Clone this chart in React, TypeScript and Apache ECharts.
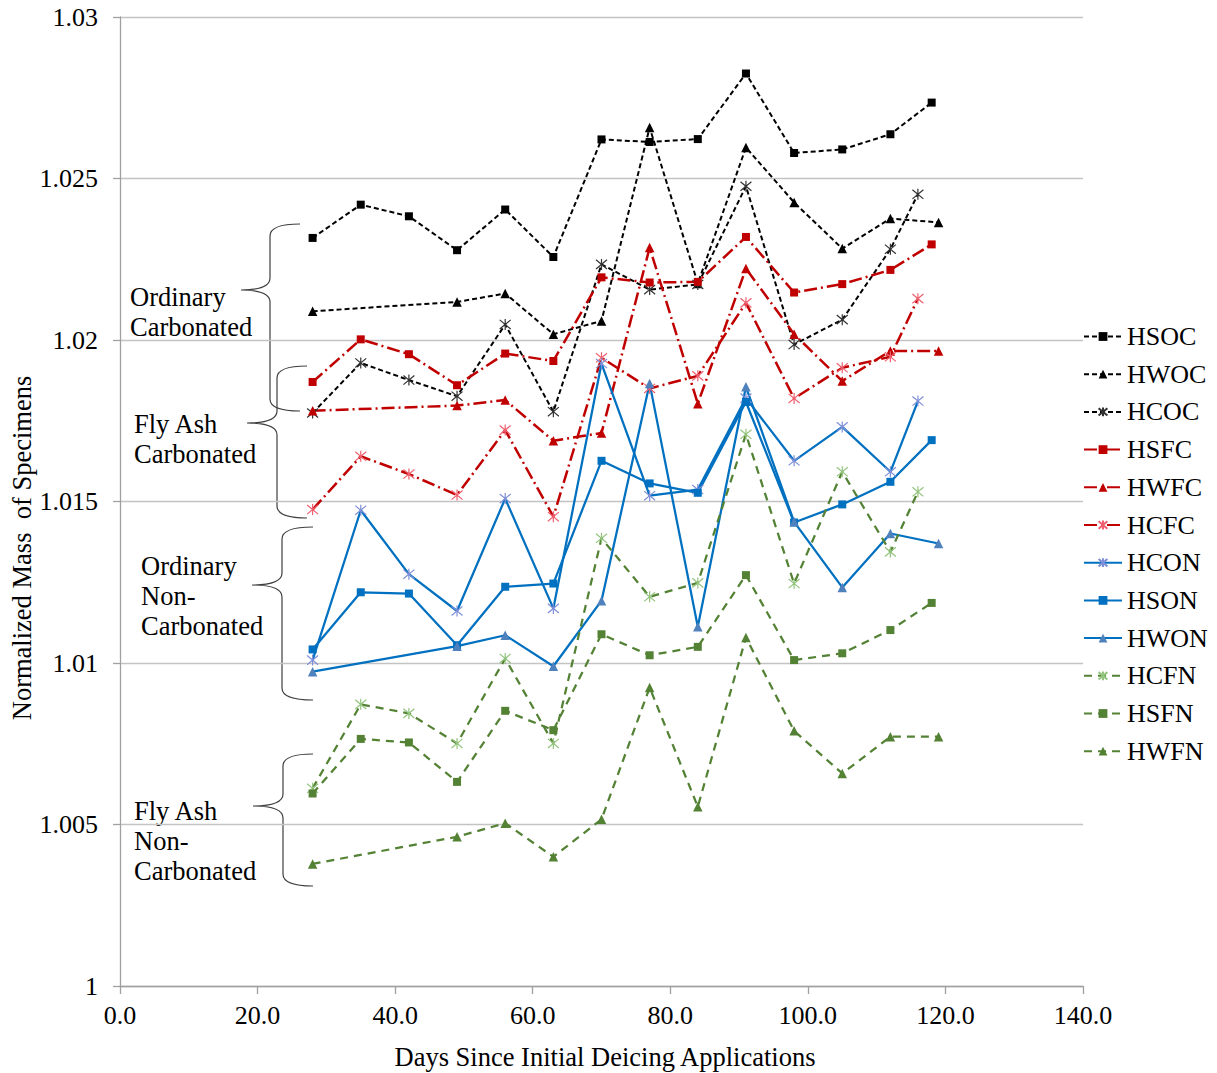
import React, { useEffect, useRef } from "react";
import * as echarts from "echarts";

// ---------- DATA ----------
const X_TICKS_MIN = 0;
const X_TICKS_MAX = 140;
const Y_MIN = 1.0;
const Y_MAX = 1.03;

const DAYS_TO_118 = [28, 35, 42, 49, 56, 63, 70, 77, 84, 91, 98, 105, 112, 118];
const DAYS_TO_116 = [28, 35, 42, 49, 56, 63, 70, 77, 84, 91, 98, 105, 112, 116];
const DAYS_TO_119 = [28, 49, 56, 63, 70, 77, 84, 91, 98, 105, 112, 119];

const HSOC = [1.02316, 1.02419, 1.02383, 1.02278, 1.02404, 1.02257, 1.02621, 1.02613, 1.02622, 1.02825, 1.02579, 1.0259, 1.02637, 1.02735];
const HWOC = [1.02089, 1.02118, 1.02144, 1.02018, 1.02059, 1.02658, 1.02175, 1.02596, 1.02426, 1.02283, 1.02376, 1.02364];
const HCOC = [1.01774, 1.01929, 1.01876, 1.01826, 1.02048, 1.01778, 1.02234, 1.02156, 1.02172, 1.02476, 1.01986, 1.02063, 1.02281, 1.02451];
const HSFC = [1.0187, 1.02002, 1.01956, 1.0186, 1.01958, 1.01935, 1.02194, 1.02178, 1.0218, 1.02319, 1.02147, 1.02173, 1.02217, 1.02296];
const HWFC = [1.01781, 1.01797, 1.01814, 1.01688, 1.01712, 1.02286, 1.01803, 1.02221, 1.02018, 1.01873, 1.01966, 1.01966];
const HCFC = [1.01475, 1.0164, 1.01585, 1.0152, 1.01721, 1.01453, 1.01945, 1.0185, 1.01889, 1.02115, 1.01819, 1.01914, 1.01948, 1.02128];
const HCON = [1.01009, 1.01473, 1.01275, 1.01161, 1.01509, 1.01169, 1.01927, 1.01518, 1.01537, 1.0182, 1.01626, 1.01731, 1.01592, 1.01811];
const HSON = [1.01042, 1.01219, 1.01215, 1.01055, 1.01236, 1.01246, 1.01626, 1.01556, 1.01527, 1.01808, 1.01435, 1.01491, 1.01561, 1.0169];
const HWON = [1.00973, 1.01052, 1.01086, 1.0099, 1.01193, 1.01865, 1.01112, 1.01855, 1.01437, 1.01234, 1.01401, 1.0137];
const HCFN = [1.00612, 1.00872, 1.00844, 1.00751, 1.01014, 1.00751, 1.01386, 1.01205, 1.01248, 1.01708, 1.01246, 1.01592, 1.01344, 1.0153];
const HSFN = [1.00596, 1.00765, 1.00754, 1.00632, 1.00852, 1.00792, 1.01089, 1.01024, 1.0105, 1.01272, 1.01009, 1.0103, 1.01102, 1.01186];
const HWFN = [1.00378, 1.00462, 1.00504, 1.004, 1.00516, 1.00924, 1.00555, 1.01079, 1.0079, 1.00658, 1.00772, 1.00772];

const GROUP_LABELS = [
  ["Ordinary", "Carbonated"],
  ["Fly Ash", "Carbonated"],
  ["Ordinary", "Non-", "Carbonated"],
  ["Fly Ash", "Non-", "Carbonated"],
];

const X_NAME = "Days Since Initial Deicing Applications";
const Y_NAME = "Normalized Mass  of Specimens";

// ---------- STYLES ----------
const FONT = "'Liberation Serif', 'Times New Roman', serif";
const ASTER = "path://M1,1L11,11M11,1L1,11M6,0L6,12";

const BLACK = { color: "#000000", type: [5, 3], width: 2 };
const RED = { color: "#c00000", type: [13, 4, 2, 4], width: 2.5 };
const BLUE = { color: "#0070c0", type: "solid", width: 2.25 };
const GREEN = { color: "#548235", type: [8, 6], width: 2.25 };

const SERIES = [
  { name: "HSOC", days: DAYS_TO_118, vals: HSOC, line: BLACK, sym: "rect", mc: "#000000" },
  { name: "HWOC", days: DAYS_TO_119, vals: HWOC, line: BLACK, sym: "triangle", mc: "#000000" },
  { name: "HCOC", days: DAYS_TO_116, vals: HCOC, line: BLACK, sym: "aster", mc: "#333333" },
  { name: "HSFC", days: DAYS_TO_118, vals: HSFC, line: RED, sym: "rect", mc: "#c00000" },
  { name: "HWFC", days: DAYS_TO_119, vals: HWFC, line: RED, sym: "triangle", mc: "#c00000" },
  { name: "HCFC", days: DAYS_TO_116, vals: HCFC, line: RED, sym: "aster", mc: "#f06070" },
  { name: "HCON", days: DAYS_TO_116, vals: HCON, line: BLUE, sym: "aster", mc: "#7f8fd8" },
  { name: "HSON", days: DAYS_TO_118, vals: HSON, line: BLUE, sym: "rect", mc: "#0070c0" },
  { name: "HWON", days: DAYS_TO_119, vals: HWON, line: BLUE, sym: "triangle", mc: "#4f81bd" },
  { name: "HCFN", days: DAYS_TO_116, vals: HCFN, line: GREEN, sym: "aster", mc: "#92c47d" },
  { name: "HSFN", days: DAYS_TO_118, vals: HSFN, line: GREEN, sym: "rect", mc: "#548235" },
  { name: "HWFN", days: DAYS_TO_119, vals: HWFN, line: GREEN, sym: "triangle", mc: "#548235" },
];

// brace geometry: [endX, verticalX, tipX, topY, midY, bottomY]
const BRACES = [
  [300, 270, 241, 224, 290, 411],
  [307, 277, 247, 366, 423, 518],
  [313, 282, 252, 527, 585, 700],
  [313, 283, 253, 754, 806, 886],
];
const LABEL_POS = [
  { x: 130, y: [297, 327] },
  { x: 134, y: [424, 454] },
  { x: 141, y: [566, 596, 626] },
  { x: 134, y: [811, 841, 871] },
];

function bracePath(b: number[]) {
  const [xe, xv, xt, yt, ym, yb] = b;
  const r = 12;
  return (
    `M${xe},${yt} Q${xv},${yt} ${xv},${yt + r} L${xv},${ym - r} ` +
    `Q${xv},${ym} ${xt},${ym} Q${xv},${ym} ${xv},${ym + r} ` +
    `L${xv},${yb - r} Q${xv},${yb} ${xe},${yb}`
  );
}

export default function App() {
  const ref = useRef<HTMLDivElement>(null);
  useEffect(() => {
    document.body.style.margin = "0";
    BRACES.forEach((b, i) => {
      echarts.graphic.registerShape("brace" + i, echarts.graphic.extendPath(bracePath(b), {}));
    });
    const chart = echarts.init(ref.current!, undefined, { renderer: "svg" });

    const series = SERIES.map((s) => {
      const isAster = s.sym === "aster";
      return {
        name: s.name,
        type: "line",
        data: s.days.map((d, i) => [d, s.vals[i]]),
        symbol: isAster ? ASTER : s.sym,
        symbolSize: isAster ? 11 : s.sym === "rect" ? 8 : 9.5,
        showAllSymbol: true,
        lineStyle: { color: s.line.color, type: s.line.type, width: s.line.width },
        itemStyle: isAster
          ? { color: "rgba(0,0,0,0)", borderColor: s.mc, borderWidth: 1.2 }
          : { color: s.mc, borderWidth: 0 },
        emphasis: { disabled: true },
        z: 2,
      };
    });

    const graphic: any[] = [];
    BRACES.forEach((_, i) => {
      graphic.push({
        type: "brace" + i,
        style: { stroke: "#404040", fill: "none", lineWidth: 1.2 },
        silent: true,
      });
    });
    GROUP_LABELS.forEach((lines, i) => {
      lines.forEach((t, j) => {
        graphic.push({
          type: "text",
          x: LABEL_POS[i].x,
          y: LABEL_POS[i].y[j],
          style: {
            text: t,
            font: `26.5px ${FONT}`,
            fill: "#000",
            textAlign: "left",
            textVerticalAlign: "middle",
          },
        });
      });
    });
    graphic.push({
      type: "text",
      x: 605,
      y: 1057,
      style: { text: X_NAME, font: `26.5px ${FONT}`, fill: "#000", textAlign: "center", textVerticalAlign: "middle" },
    });
    graphic.push({
      type: "text",
      x: 22,
      y: 548,
      rotation: Math.PI / 2,
      style: { text: Y_NAME, font: `26.5px ${FONT}`, fill: "#000", textAlign: "center", textVerticalAlign: "middle" },
    });

    chart.setOption({
      animation: false,
      backgroundColor: "#ffffff",
      grid: { left: 120, right: 134, top: 17, bottom: 87, containLabel: false },
      xAxis: {
        type: "value",
        min: X_TICKS_MIN,
        max: X_TICKS_MAX,
        interval: 20,
        axisLine: { show: true, lineStyle: { color: "#a0a0a0", width: 1.3 } },
        axisTick: { show: true, length: 8, lineStyle: { color: "#a0a0a0", width: 1.3 } },
        splitLine: { show: false },
        axisLabel: {
          margin: 16,
          color: "#000",
          fontFamily: FONT,
          fontSize: 26,
          formatter: (v: number) => v.toFixed(1),
        },
      },
      yAxis: {
        type: "value",
        min: Y_MIN,
        max: Y_MAX,
        interval: 0.005,
        axisLine: { show: true, lineStyle: { color: "#a0a0a0", width: 1.3 } },
        axisTick: { show: true, length: 7, lineStyle: { color: "#a0a0a0", width: 1.3 } },
        splitLine: { show: true, lineStyle: { color: "#c3c3c3", width: 1.3 } },
        axisLabel: {
          margin: 22,
          color: "#000",
          fontFamily: FONT,
          fontSize: 26,
          formatter: (v: number) => String(parseFloat(v.toFixed(3))),
        },
      },
      legend: {
        orient: "vertical",
        left: 1083,
        top: 323.5,
        padding: 0,
        itemWidth: 38,
        itemHeight: 11,
        itemGap: 11.7,
        selectedMode: false,
        textStyle: { fontFamily: FONT, fontSize: 26, color: "#000", padding: [0, 0, 0, 0] },
        data: SERIES.map((s) => s.name),
      },
      graphic,
      series,
    });
    return () => chart.dispose();
  }, []);
  return <div ref={ref} style={{ width: 1217, height: 1073 }} />;
}
